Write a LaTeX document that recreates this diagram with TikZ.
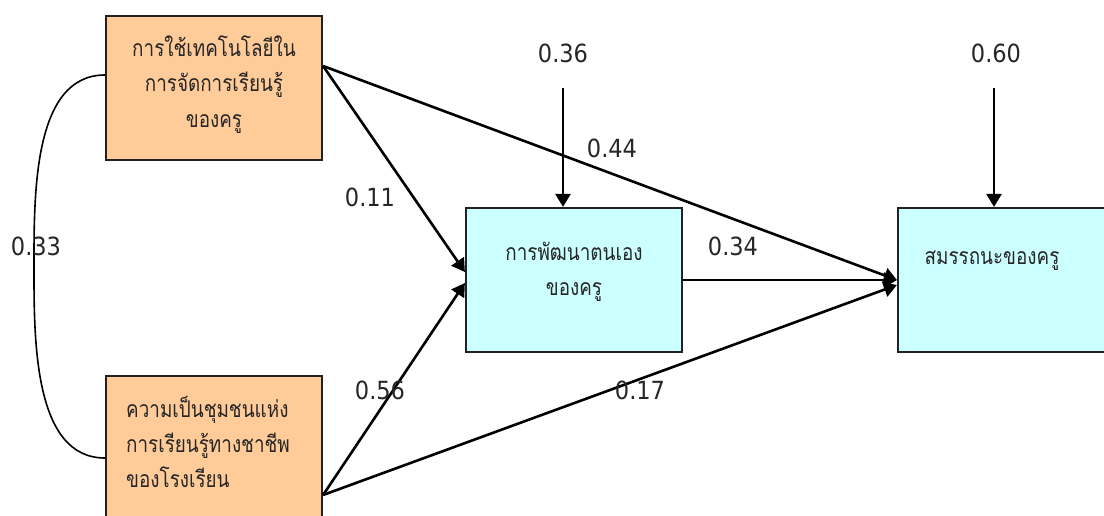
\documentclass[tikz,border=0pt]{standalone}
\usepackage{fontspec}
\newfontfamily\thaifont[Script=Thai,FakeStretch=0.82]{Loma}
\newfontfamily\numfont{DejaVu Sans Condensed}
\usetikzlibrary{arrows.meta,calc}
\definecolor{peach}{HTML}{FFCC99}
\definecolor{paleCyan}{HTML}{CCFFFF}
\definecolor{edge}{HTML}{222222}
\tikzset{
  box/.style={draw=edge,line width=2.2pt,minimum width=216pt,minimum height=144pt,inner sep=0pt},
  exo/.style={box,fill=peach},
  endo/.style={box,fill=paleCyan},
  path/.style={line width=2.6pt,-{Triangle[length=13pt,width=15pt]}},
  thtxt/.style={font=\thaifont\fontsize{23}{28}\selectfont,anchor=base,inner sep=0pt,text=black!85},
  coef/.style={font=\numfont\fontsize{25}{30}\selectfont,inner sep=0pt,text=black!85},
}
\begin{document}
\begin{tikzpicture}[x=1pt,y=-1pt]
\useasboundingbox (0,0) rectangle (1104,516);
% boxes
\node[exo]  (A) at (214,88)  {};
\node[exo]  (B) at (214,448) {};
\node[endo] (C) at (574,280) {};
\node[endo] (D) at (1006,280) {};
% texts
\node[thtxt] (a1) at (214,57)  {การใช้เทคโนโลยีใน};
\node[thtxt] (a2) at (214,92)  {การจัดการเรียนรู้};
\node[thtxt] (a3) at (214,128) {ของครู};
\node[thtxt,anchor=base west] (b1) at (126,417) {ความเป็นชุมชนแห่ง};
\node[thtxt,anchor=base west] (b2) at (126,452) {การเรียนรู้ทางชาชีพ};
\node[thtxt,anchor=base west] (b3) at (126,487) {ของโรงเรียน};
\node[thtxt] (c1) at (574,260) {การพัฒนาตนเอง};
\node[thtxt] (c2) at (574,295) {ของครู};
\node[thtxt] (d1) at (992,265) {สมรรถนะของครู};
% error terms
\coordinate (eC) at (563,88);
\coordinate (eD) at (994,88);
\node[coef] (l36) at (563,53) {0.36};
\node[coef] (l60) at (996,53) {0.60};
\draw[path] (eC) -- (C.north -| eC);
\draw[path] (eD) -- (D.north -| eD);
% correlation curve
\draw[line width=1.6pt] ([yshift=13pt]A.west) to[out=180,in=90,looseness=0.9] (34,268) to[out=-90,in=180,looseness=0.9] ([yshift=-10pt]B.west);
% paths
\coordinate (As) at ([yshift=22pt]A.east);
\coordinate (Bs) at ([yshift=-47pt]B.east);
\draw[path] (As) -- ([yshift=8pt]C.west);
\draw[path] (As) -- (D.west);
\draw[path] (Bs) -- ([yshift=-3pt]C.west);
\draw[path] (Bs) -- ([yshift=-5pt]D.west);
\draw[path] (C.east) -- (D.west);
% coefficients
\node[coef] (l44) at (612,148) {0.44};
\node[coef] (l11) at (370,197) {0.11};
\node[coef] (l33) at (36,246) {0.33};
\node[coef] (l34) at (733,246) {0.34};
\node[coef] (l56) at (380,390) {0.56};
\node[coef] (l17) at (640,390) {0.17};
\end{tikzpicture}
\end{document}
